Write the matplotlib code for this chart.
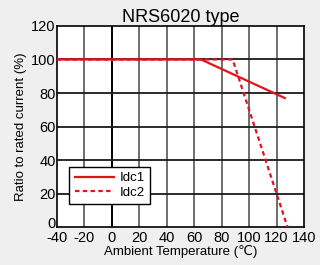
import matplotlib
matplotlib.use("Agg")
import matplotlib.pyplot as plt
import matplotlib.transforms as mtransforms

plt.rcParams['font.family'] = ['Liberation Sans', 'DejaVu Sans']
plt.rcParams['axes.unicode_minus'] = False

idc1_x = [-40, 65, 126]
idc1_y = [100, 100, 77]
idc2_x = [-40, 88, 128]
idc2_y = [100, 100, 0]
xticks = [-40, -20, 0, 20, 40, 60, 80, 100, 120, 140]
yticks = [0, 20, 40, 60, 80, 100, 120]

fig = plt.figure(figsize=(3.2, 2.65), dpi=100, facecolor='#efefef')
ax = fig.add_axes([0.178, 0.143, 0.772, 0.759])
ax.set_facecolor('white')
ax.set_xlim(-40, 140)
ax.set_ylim(0, 120)
ax.set_xticks(xticks)
ax.set_yticks(yticks)
ax.tick_params(length=0, labelsize=10.5)
ax.tick_params(axis='x', pad=2.5)
ax.tick_params(axis='y', pad=1)

for x in xticks[1:-1]:
    ax.axvline(x, color='black' if x == 0 else '#6e6e6e', lw=1.4, zorder=1)
for y in yticks[1:-1]:
    ax.axhline(y, color='#1a1a1a', lw=1.3, zorder=1)

ax.plot(idc1_x, idc1_y, color='#e3131b', lw=1.6, label='Idc1', zorder=3)
ax.plot(idc2_x, idc2_y, color='#e3131b', lw=1.6, ls=(0, (2, 1.5)), label='Idc2', zorder=3)

for s in ax.spines.values():
    s.set_color('black')
    s.set_linewidth(1.2)

leg = ax.legend(loc='lower left', bbox_to_anchor=(0.05, 0.115), fontsize=9.5,
                frameon=True, fancybox=False, edgecolor='black', framealpha=1,
                borderpad=0.4, handlelength=3.0, handletextpad=0.4, labelspacing=0.15,
                borderaxespad=0)
leg.get_frame().set_linewidth(1.0)

ax.set_title('NRS6020 type', fontsize=13, pad=1)
ax.set_xlabel('Ambient Temperature (\u2103)', fontsize=9.5, labelpad=0)
ax.set_ylabel('Ratio to rated current (%)', fontsize=9.5, labelpad=3)

fig.canvas.draw()
lbl0 = ax.get_yticklabels()[0]
lbl0.set_transform(lbl0.get_transform() + mtransforms.ScaledTranslation(0, 4.5/100, fig.dpi_scale_trans))

fig.savefig('out.png', dpi=100, facecolor=fig.get_facecolor())
